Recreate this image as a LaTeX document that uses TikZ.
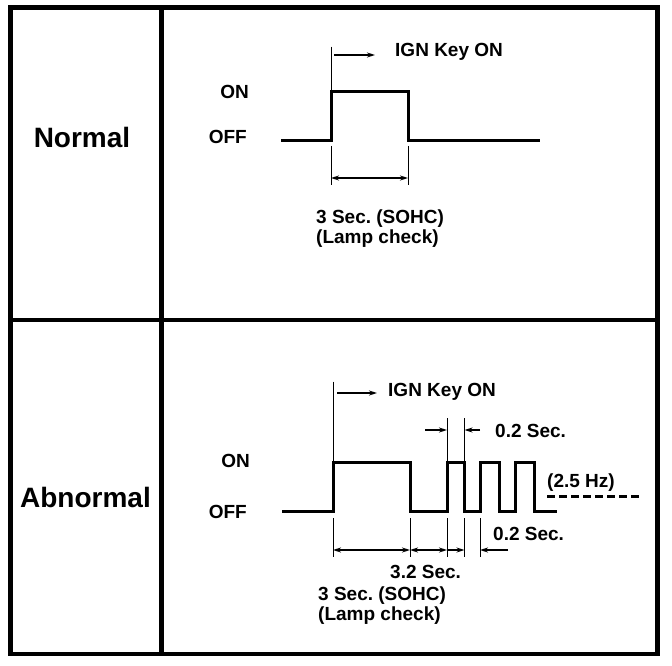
\documentclass[tikz,border=0pt]{standalone}
\usepackage{fontspec}
\setmainfont{Liberation Sans}
\usetikzlibrary{arrows.meta, positioning}
\frenchspacing

\begin{document}
\begin{tikzpicture}[
    x=1pt, y=-1pt,
    frame/.style={line width=4.5pt},
    signal/.style={line width=3pt, line join=miter},
    guide/.style={line width=1pt},
    dim/.style={line width=1.6pt, -{Stealth[length=8pt, width=5pt]}},
    dimboth/.style={line width=1.6pt, {Stealth[length=8pt, width=5pt]}-{Stealth[length=8pt, width=5pt]}},
    rowlabel/.style={font=\fontsize{28}{32}\selectfont\bfseries, inner sep=0pt},
    level/.style={font=\fontsize{19}{20}\selectfont\bfseries, anchor=east, inner sep=0pt},
    note/.style={font=\fontsize{19}{19.5}\selectfont\bfseries, anchor=west, inner sep=0pt, align=left}
]
\useasboundingbox (0,0) rectangle (672,666);

% Frame
\draw[frame] (10.5,7.5) rectangle (657.5,654);
\draw[frame] (161.3,7.5) -- (161.3,654);
\draw[frame] (10.5,320) -- (657.5,320);

% Row labels
\node[rowlabel] (normal) at (82,137) {Normal};
\node[rowlabel] (abnormal) at (85.5,497) {Abnormal};

% Normal
\node[level] (non) at (249,91.5) {ON};
\node[level] (noff) at (247,136.5) {OFF};
\coordinate (nr) at (331,141);
\coordinate (nf) at (408,141);
\coordinate (nrt) at (331,91.5);
\coordinate (nft) at (408,91.5);
\draw[signal] (281,141) -- (nr) -- (nrt) -- (nft) -- (nf) -- (540,141);

\node[note] (nkey) at (395,52) {IGN Key ON};
\coordinate (nkeytop) at (331,46.7);
\draw[guide] (nkeytop) -- (nrt);
\draw[dim] ([xshift=3pt]nkeytop |- 0,55) -- (375,55);

\coordinate (nlow1) at (331,185);
\coordinate (nlow2) at (408,185);
\draw[guide] ([yshift=-5pt]nr) -- (nlow1);
\draw[guide] ([yshift=-5pt]nf) -- (nlow2);
\draw[dimboth] ([yshift=7pt]nlow1) -- ([yshift=7pt]nlow2);
\node[note] (ntime) at (316,228.5) {3 Sec. (SOHC)\\(Lamp check)};

% Abnormal
\node[level] (aon) at (250,461) {ON};
\node[level] (aoff) at (247,512) {OFF};
\coordinate (ar1) at (333,511);
\coordinate (af1) at (410,511);
\coordinate (ar2) at (447,511);
\coordinate (af2) at (464.5,511);
\coordinate (ar3) at (480,511);
\draw[signal] (282,511) -- (ar1) -- (333,462) -- (410,462) -- (af1) -- (ar2)
    -- (447,462) -- (464.5,462) -- (af2) -- (ar3) -- (480,462) -- (499,462)
    -- (499,511) -- (515.5,511) -- (515.5,462) -- (534,462) -- (534,511) -- (557,511);

\node[note] (akey) at (388,391.5) {IGN Key ON};
\coordinate (akeytop) at (333,381.7);
\draw[guide] (akeytop) -- (333,462);
\draw[dim] (337,393) -- (377,393);

% 0.2 Sec. on
\coordinate (pon1) at (447,418);
\coordinate (pon2) at (464.5,418);
\draw[guide] (pon1) -- (447,462);
\draw[guide] (pon2) -- (464.5,462);
\draw[dim] (425,430) -- (pon1 |- 0,430);
\draw[dim] (480,430) -- (pon2 |- 0,430);
\node[note] (ponlabel) at (495,431) {0.2 Sec.};

% 2.5 Hz
\node[note] (freq) at (547,482.5) {(2.5 Hz)};
\draw[line width=3pt, dash pattern=on 8pt off 4pt] (547,496) -- (640,496);

% lower dimensions
\foreach \p in {ar1, af1, ar2, af2, ar3}
  \draw[guide] ([yshift=-7pt]\p) -- ([yshift=-46pt]\p);
\draw[dimboth] ([yshift=-39pt]ar1) -- ([yshift=-39pt]af1);
\draw[dimboth] ([yshift=-39pt]af1) -- ([yshift=-39pt]ar2);
\draw[dim] ([yshift=-39pt]ar2) -- ([yshift=-39pt]af2);
\draw[dim] (508,550) -- ([yshift=-39pt]ar3);
\node[note] (pofflabel) at (493,534) {0.2 Sec.};
\node[note] (atotal) at (390,572) {3.2 Sec.};
\node[note] (atime) at (318,605.5) {3 Sec. (SOHC)\\(Lamp check)};
\end{tikzpicture}
\end{document}
